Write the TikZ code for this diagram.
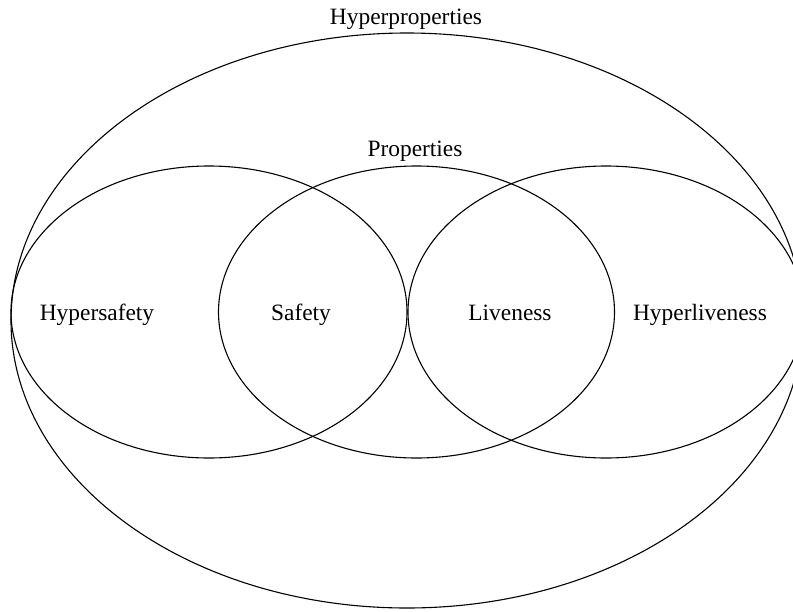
\documentclass[tikz,border=0pt]{standalone}
\usepackage{fontspec}
\setmainfont{Liberation Serif}
\begin{document}
\begin{tikzpicture}[x=1pt,y=-1pt,
  set/.style={draw=black,line width=1.1pt},
  setlabel/.style={font=\fontsize{23.4}{28}\selectfont,anchor=base,inner sep=0pt}]
  \useasboundingbox (0,0) rectangle (793,611);
  % outer class and the three overlapping classes
  \draw[set] (407,320.5) ellipse [x radius=396pt, y radius=287.5pt];
  \draw[set] (209,312) ellipse [x radius=198pt, y radius=146pt];
  \draw[set] (416.5,312) ellipse [x radius=198pt, y radius=146pt];
  \draw[set] (606,312) ellipse [x radius=198pt, y radius=146pt];
  % labels
  \node[setlabel] (hp) at (406,24) {Hyperproperties};
  \node[setlabel] (pr) at (415,156) {Properties};
  \node[setlabel] (hs) at (97,320) {Hypersafety};
  \node[setlabel] (sf) at (301,320) {Safety};
  \node[setlabel] (lv) at (510,320) {Liveness};
  \node[setlabel] (hl) at (700,320) {Hyperliveness};
\end{tikzpicture}
\end{document}
